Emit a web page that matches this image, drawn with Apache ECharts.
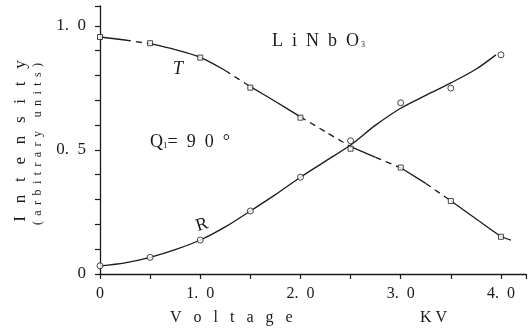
<!DOCTYPE html>
<html>
<head>
<meta charset="utf-8">
<script src="https://cdn.jsdelivr.net/npm/echarts@6/dist/echarts.min.js"></script>
<style>
html, body { margin: 0; padding: 0; background: #fff; }
#chart { width: 529px; height: 328px; }
</style>
</head>
<body>
<div id="chart"></div>
<script>
// measured points
var voltage = [0, 0.5, 1.0, 1.5, 2.0, 2.5, 3.0, 3.5, 4.0];
var tPoints = [0.955, 0.930, 0.872, 0.751, 0.630, 0.505, 0.429, 0.294, 0.150];
var rPoints = [0.033, 0.067, 0.137, 0.254, 0.390, 0.537, 0.690, 0.749, 0.883];

// hand drawn curves
var tCurveX = [0, 0.25, 0.5, 0.75, 1.0, 1.25, 1.5, 1.75, 2.0, 2.25, 2.5, 2.75, 3.0, 3.25, 3.5, 3.75, 4.0, 4.1];
var tCurveY = [0.955, 0.943, 0.928, 0.904, 0.873, 0.82, 0.755, 0.695, 0.633, 0.573, 0.513, 0.47, 0.428, 0.365, 0.295, 0.223, 0.152, 0.137];
var rCurveX = [0, 0.25, 0.5, 0.75, 1.0, 1.25, 1.5, 1.75, 2.0, 2.25, 2.5, 2.75, 3.0, 3.25, 3.5, 3.75, 3.95];
var rCurveY = [0.033, 0.045, 0.067, 0.098, 0.137, 0.19, 0.254, 0.32, 0.39, 0.455, 0.52, 0.6, 0.668, 0.72, 0.77, 0.825, 0.883];
// parts of the T curve that are dashed
var tDashed = [[0.25, 0.5], [1.25, 1.5], [2.0, 2.5], [2.75, 3.0], [3.25, 3.5]];

var yLabels = { '0': '0', '0.5': '0.  5', '1': '1.  0' };
var xLabels = { '0': '0', '1': '1.  0', '2': '2.  0', '3': '3.  0', '4': '4.  0' };

var serif = 'Liberation Serif';
var ink = '#1a1a1a';

function pairs(xs, ys, from, to) {
  var out = [];
  for (var i = 0; i < xs.length; i++) {
    if (xs[i] >= from - 1e-9 && xs[i] <= to + 1e-9) out.push([xs[i], ys[i]]);
  }
  return out;
}

// cut T curve into solid / dashed pieces
var tPieces = [];
var start = tCurveX[0];
tDashed.forEach(function (d) {
  tPieces.push({ from: start, to: d[0], dash: false });
  tPieces.push({ from: d[0], to: d[1], dash: true });
  start = d[1];
});
tPieces.push({ from: start, to: tCurveX[tCurveX.length - 1], dash: false });

var series = [];
tPieces.forEach(function (p) {
  series.push({
    type: 'line',
    data: pairs(tCurveX, tCurveY, p.from, p.to),
    smooth: 0.3,
    showSymbol: false,
    silent: true,
    lineStyle: { color: ink, width: 1.3, type: p.dash ? [6, 5] : 'solid' },
  });
});
series.push({
  type: 'line',
  data: pairs(rCurveX, rCurveY, 0, 5),
  smooth: 0.3,
  showSymbol: false,
  silent: true,
  lineStyle: { color: ink, width: 1.3 },
});
series.push({
  type: 'scatter',
  data: voltage.map(function (v, i) { return [v, tPoints[i]]; }),
  symbol: 'rect',
  symbolSize: 5,
  z: 5,
  itemStyle: { color: '#fff', borderColor: ink, borderWidth: 1 },
});
series.push({
  type: 'scatter',
  data: voltage.map(function (v, i) { return [v, rPoints[i]]; }),
  symbol: 'circle',
  symbolSize: 6,
  z: 5,
  itemStyle: { color: '#fff', borderColor: ink, borderWidth: 1 },
});

var chart = echarts.init(document.getElementById('chart'));
chart.setOption({
  animation: false,
  backgroundColor: '#fff',
  grid: { left: 100, right: 2, top: 6, bottom: 54 },
  xAxis: {
    type: 'value',
    min: 0,
    max: 4.25,
    interval: 0.5,
    axisLine: { lineStyle: { color: ink, width: 1.3 } },
    axisTick: { length: 5, lineStyle: { color: ink, width: 1.2 } },
    splitLine: { show: false },
    axisLabel: {
      margin: 12,
      color: ink,
      fontFamily: serif,
      fontSize: 16,
      formatter: function (v) {
        var k = String(Math.round(v * 100) / 100);
        return xLabels[k] || '';
      },
    },
  },
  yAxis: {
    type: 'value',
    min: 0,
    max: 1.08,
    interval: 0.1,
    axisLine: { lineStyle: { color: ink, width: 1.3 } },
    axisTick: { length: 5, lineStyle: { color: ink, width: 1.2 } },
    splitLine: { show: false },
    axisLabel: {
      margin: 14,
      color: ink,
      fontFamily: serif,
      fontSize: 17,
      formatter: function (v) {
        var k = String(Math.round(v * 100) / 100);
        return yLabels[k] || '';
      },
    },
  },
  graphic: [
    {
      type: 'text', x: 21, y: 141, rotation: Math.PI / 2,
      style: { text: 'I   n   t   e   n   s   i   t   y', font: '17px ' + serif, fill: ink, align: 'center', verticalAlign: 'middle' },
    },
    {
      type: 'text', x: 38, y: 144, rotation: Math.PI / 2,
      style: {
        text: '( \u2009a \u2009r \u2009b \u2009i \u2009t \u2009r \u2009a \u2009r \u2009y \u2009 \u2009 u \u2009n \u2009i \u2009t \u2009s \u2009)',
        font: '12px ' + serif, fill: ink, align: 'center', verticalAlign: 'middle',
      },
    },
    {
      type: 'text', x: 170, y: 318,
      style: { text: 'V   o   l   t   a   g   e', font: '16px ' + serif, fill: ink, align: 'left', verticalAlign: 'middle' },
    },
    {
      type: 'text', x: 420, y: 318,
      style: { text: 'K V', font: '16px ' + serif, fill: ink, align: 'left', verticalAlign: 'middle' },
    },
    {
      type: 'text', x: 272, y: 41,
      style: {
        text: '{m|L  i  N  b  O}{s| 3}',
        verticalAlign: 'middle',
        rich: {
          m: { font: '18px ' + serif, fill: ink },
          s: { font: '8px ' + serif, fill: ink, padding: [8, 0, 0, 0] },
        },
      },
    },
    {
      type: 'text', x: 150, y: 142,
      style: {
        text: '{m|Q}{s|1}{m|=  9  0  °}',
        verticalAlign: 'middle',
        rich: {
          m: { font: '18px ' + serif, fill: ink },
          s: { font: '9px ' + serif, fill: ink, padding: [8, 0, 0, 0] },
        },
      },
    },
    {
      type: 'text', x: 178, y: 69,
      style: { text: 'T', font: 'italic 18px ' + serif, fill: ink, align: 'center', verticalAlign: 'middle' },
    },
    {
      type: 'text', x: 202, y: 225, rotation: 0.3,
      style: { text: 'R', font: '18px ' + serif, fill: ink, align: 'center', verticalAlign: 'middle' },
    },
  ],
  series: series,
});
</script>
</body>
</html>
